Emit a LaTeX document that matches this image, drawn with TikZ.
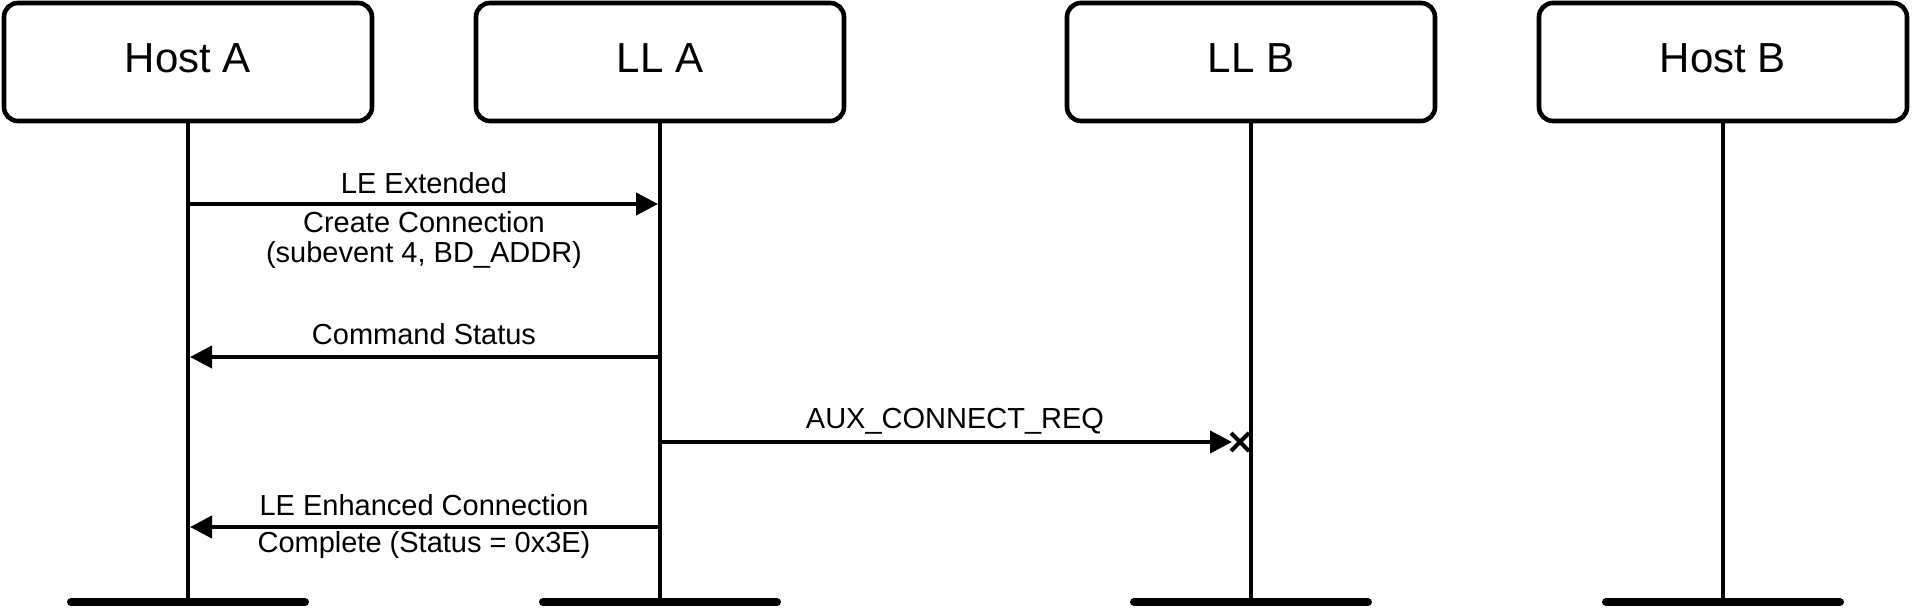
\documentclass[tikz,border=0pt]{standalone}
\usepackage{fontspec}
\setmainfont{Liberation Sans}
\usetikzlibrary{arrows.meta}
\begin{document}
\begin{tikzpicture}[x=0.5pt,y=-0.5pt,
  party/.style={draw, line width=2.3pt, rounded corners=7pt, minimum width=184pt,
    minimum height=59pt, inner sep=0pt, text height=15pt, text depth=4pt,
    font=\fontsize{21}{25}\selectfont},
  life/.style={line width=1.8pt},
  endbar/.style={line width=4pt, line cap=round},
  msg/.style={line width=2pt, -{Triangle[length=11pt,width=11pt]}},
  lbl/.style={font=\fontsize{14.5}{16}\selectfont, anchor=base, inner sep=0pt}]
\useasboundingbox (0,0) rectangle (1912,608);

% parties
\node[party] (hA) at (188,62) {Host A};
\node[party] (lA) at (660,62) {LL A};
\node[party] (lB) at (1251,62) {LL B};
\node[party] (hB) at (1723,62) {Host B};

% lifeline ends
\coordinate (hAe) at (188,602);
\coordinate (lAe) at (660,602);
\coordinate (lBe) at (1251,602);
\coordinate (hBe) at (1723,602);

\foreach \p in {hA,lA,lB,hB}{
  \draw[life] (\p.south) -- (\p e);
  \draw[endbar] ([xshift=-58.5pt]\p e) -- ([xshift=58.5pt]\p e);
}

% message end points
\coordinate (m1s) at (188,204); \coordinate (m1e) at (660,204);
\coordinate (m2s) at (660,357); \coordinate (m2e) at (188,357);
\coordinate (m3s) at (660,442); \coordinate (m3x) at (1240,442);
\coordinate (m4s) at (660,527); \coordinate (m4e) at (188,527);

\draw[msg, shorten >=1pt] (m1s) -- (m1e);
\draw[msg, shorten >=1pt] (m2s) -- (m2e);
\draw[msg, shorten >=4pt] (m3s) -- (m3x);
\draw[msg, shorten >=1pt] (m4s) -- (m4e);

% lost-message cross
\draw[line width=2pt] ([shift={(-4.5pt,-4.5pt)}]m3x) -- ([shift={(4.5pt,4.5pt)}]m3x);
\draw[line width=2pt] ([shift={(-4.5pt,4.5pt)}]m3x) -- ([shift={(4.5pt,-4.5pt)}]m3x);

% labels
\node[lbl] (t1a) at (424,194) {LE Extended};
\node[lbl] (t1b) at (424,233) {Create Connection};
\node[lbl] (t1c) at (424,263) {(subevent 4, BD\_ADDR)};
\node[lbl] (t2) at (424,345) {Command Status};
\node[lbl] (t3) at (955,429) {AUX\_CONNECT\_REQ};
\node[lbl] (t4a) at (424,516) {LE Enhanced Connection};
\node[lbl] (t4b) at (424,553) {Complete (Status = 0x3E)};
\end{tikzpicture}
\end{document}
